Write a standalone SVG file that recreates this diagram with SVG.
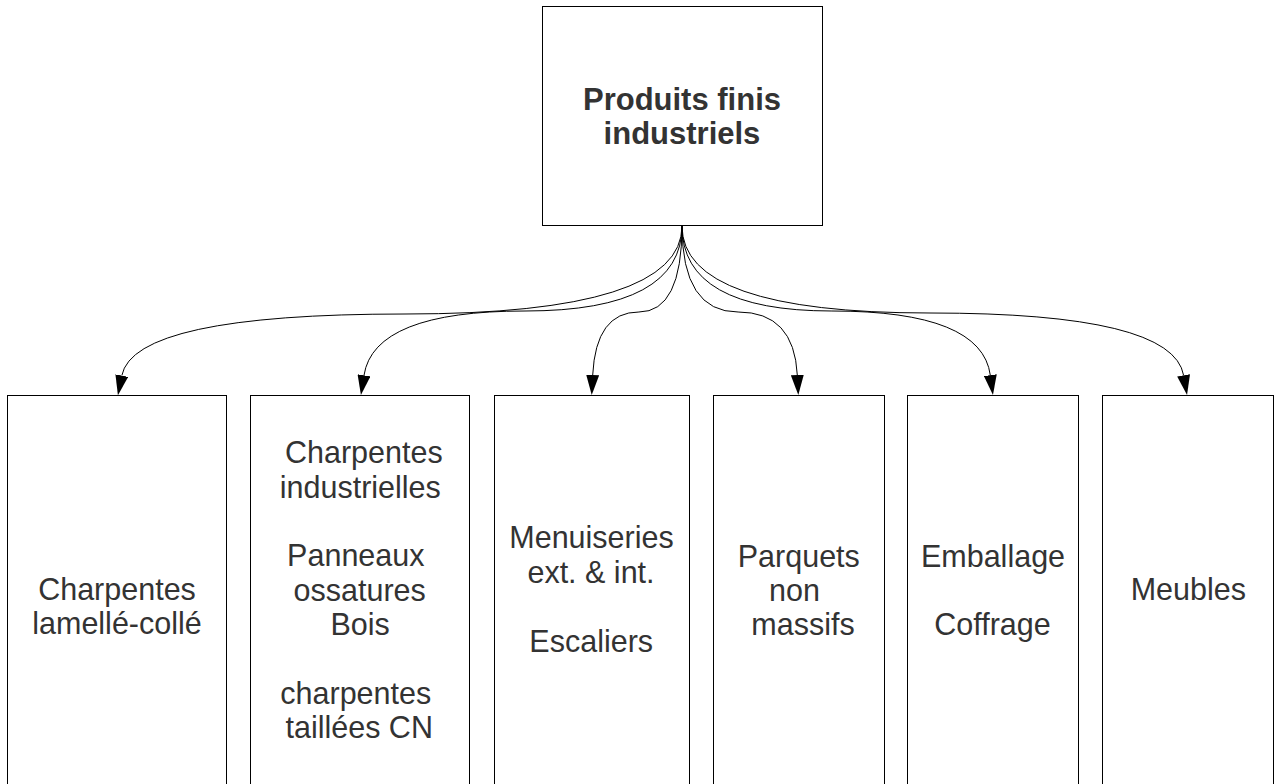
<svg xmlns="http://www.w3.org/2000/svg" width="1276" height="784" viewBox="0 0 1276 784">
  <style>
    .box { fill: #ffffff; stroke: #000000; stroke-width: 1; }
    .t { font-family: "Liberation Sans", Arial, sans-serif; font-size: 30.5px; fill: #333333; text-anchor: middle; }
    .b { font-weight: bold; font-size: 31px; }
    .edge { fill: none; stroke: #000000; stroke-width: 1; }
  </style>
  <defs>
    <marker id="arrow" markerUnits="userSpaceOnUse" markerWidth="20" markerHeight="13" viewBox="0 0 20 13" refX="0" refY="6.5" orient="auto">
      <path d="M0,0 L20,6.5 L0,13 z" fill="#000000"/>
    </marker>
  </defs>
  <rect width="1276" height="784" fill="#ffffff"/>

  <g id="connectors">
    <path class="edge" marker-end="url(#arrow)" d="M682,226 Q682,314 405,314 Q134,314 121.8,375.6"/>
    <path class="edge" marker-end="url(#arrow)" d="M682,226 Q682,311 525,311 Q374,311 364,375.3"/>
    <path class="edge" marker-end="url(#arrow)" d="M682,226 Q682,312 638.9,312 Q595.8,312 592.7,375"/>
    <path class="edge" marker-end="url(#arrow)" d="M682,226 Q682,312 738.1,312 Q794.1,312 797.3,375"/>
    <path class="edge" marker-end="url(#arrow)" d="M682,226 Q682,311 831.9,311 Q981.7,311 990.3,375.2"/>
    <path class="edge" marker-end="url(#arrow)" d="M682,226 Q682,313 930,313 Q1172.7,313 1183.6,375.3"/>
  </g>

  <g id="node-root">
    <rect class="box" x="542.5" y="6.5" width="280" height="219"/>
    <text class="t b" x="682" y="110">Produits finis</text>
    <text class="t b" x="682" y="144">industriels</text>
  </g>

  <g id="node-lamelle">
    <rect class="box" x="7.5" y="395.5" width="219" height="420"/>
    <text class="t" x="117" y="600">Charpentes</text>
    <text class="t" x="117" y="634">lamellé-collé</text>
  </g>

  <g id="node-charpentes">
    <rect class="box" x="250.5" y="395.5" width="219" height="420"/>
    <text class="t" x="363.8" y="463.3">Charpentes</text>
    <text class="t" x="360.3" y="497.5">industrielles</text>
    <text class="t" x="355.8" y="566.3">Panneaux</text>
    <text class="t" x="359.7" y="600.6">ossatures</text>
    <text class="t" x="360.2" y="635">Bois</text>
    <text class="t" x="355.8" y="704">charpentes</text>
    <text class="t" x="359.2" y="738.3">taillées CN</text>
  </g>

  <g id="node-menuiseries">
    <rect class="box" x="494.5" y="395.5" width="195" height="420"/>
    <text class="t" x="591.5" y="548.3">Menuiseries</text>
    <text class="t" x="591" y="582.7">ext. &amp; int.</text>
    <text class="t" x="591.2" y="651.7">Escaliers</text>
  </g>

  <g id="node-parquets">
    <rect class="box" x="713.5" y="395.5" width="171" height="420"/>
    <text class="t" x="798.8" y="566.7">Parquets</text>
    <text class="t" x="794.5" y="601">non</text>
    <text class="t" x="803" y="635">massifs</text>
  </g>

  <g id="node-emballage">
    <rect class="box" x="907.5" y="395.5" width="171" height="420"/>
    <text class="t" x="993" y="566.7">Emballage</text>
    <text class="t" x="992.5" y="635">Coffrage</text>
  </g>

  <g id="node-meubles">
    <rect class="box" x="1102.5" y="395.5" width="171" height="420"/>
    <text class="t" x="1188.3" y="600">Meubles</text>
  </g>
</svg>
